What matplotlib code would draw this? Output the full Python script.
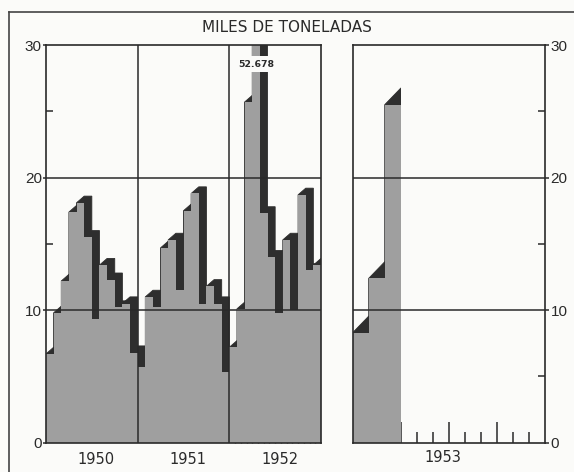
import numpy as np
import matplotlib
matplotlib.use("Agg")
import matplotlib.pyplot as plt
from matplotlib.patches import Polygon, Rectangle
from matplotlib.lines import Line2D

# ---------------- data (miles de toneladas, monthly) ----------------
years_left = ["1950", "1951", "1952"]
year_right = "1953"
values_1950 = [6.7, 9.8, 12.2, 17.4, 18.1, 15.5, 9.3, 13.4, 12.3, 10.2, 10.5, 6.8]
values_1951 = [5.7, 11.0, 10.2, 14.7, 15.3, 11.5, 17.5, 18.8, 10.5, 11.8, 10.5, 5.3]
values_1952 = [7.2, 10.1, 25.7, 52.678, 17.3, 14.0, 9.8, 15.3, 10.0, 18.7, 13.0, 13.4]
values_1953 = [8.3, 12.4, 25.5]
peak_label = "52.678"
title = "MILES DE TONELADAS"
y_ticks = [0, 10, 20, 30]

# ---------------- style ----------------
W, H = 574, 472
BG = "#fbfbf9"
GRAY = "#9f9f9f"
DARK = "#2e2e2e"
INK = "#2a2a2a"
NUM_FONT = ["Liberation Sans", "DejaVu Sans"]

fig = plt.figure(figsize=(W / 100, H / 100), dpi=100)
fig.patch.set_facecolor(BG)


def ax_rect(x0, x1, ytop, ybot):
    return [x0 / W, 1 - ybot / H, (x1 - x0) / W, (ybot - ytop) / H]


axL = fig.add_axes(ax_rect(46, 321, 45, 442.7))
axR = fig.add_axes(ax_rect(352.7, 545, 45, 442.7))

left_values = values_1950 + values_1951 + values_1952


def draw_series(ax, values, depth, clip_to_data=False):
    n = len(values)
    shadows = []
    for i, v in enumerate(values):
        x = i
        poly = Polygon([(x, 0), (x + 1, 0), (x + 2, depth), (x + 2, v + depth),
                        (x + 1, v + depth), (x, v)], closed=True,
                       facecolor=DARK, edgecolor=DARK, linewidth=0.6, zorder=1)
        ax.add_patch(poly)
        shadows.append(poly)
    if clip_to_data:
        clip = Rectangle((0, 0), n, 100, transform=ax.transData)
        for p in shadows:
            p.set_clip_path(clip)
    ax.bar(np.arange(n), values, width=1, align="edge", color=GRAY,
           linewidth=0, zorder=2)


for ax, nmonths in ((axL, 36), (axR, 12)):
    ax.set_facecolor(BG)
    ax.set_xlim(0, nmonths)
    ax.set_ylim(0, 30)
    for s in ax.spines.values():
        s.set_linewidth(1.2)
        s.set_color(INK)
        s.set_zorder(5)
    ax.axhline(10, color=INK, lw=1.1, zorder=4)
    ax.axhline(20, color=INK, lw=1.1, zorder=4)

draw_series(axL, left_values, 0.5)
draw_series(axR, values_1953, 1.25, clip_to_data=True)

# year dividers
for xb in (12, 24):
    axL.axvline(xb, color=INK, lw=1.1, zorder=4)

# ---- y ticks ----
axL.set_yticks(y_ticks)
axL.set_yticklabels([str(t) for t in y_ticks], family=NUM_FONT, fontsize=11, color=INK)
axL.set_yticks([5, 15, 25], minor=True)
axL.tick_params(axis="y", which="major", direction="out", length=2, width=1.1,
                color=INK, pad=1)
axL.tick_params(axis="y", which="minor", direction="in", length=5, width=1.1,
                color=INK)

axR.yaxis.tick_right()
axR.set_yticks(y_ticks)
axR.set_yticklabels([str(t) for t in y_ticks], family=NUM_FONT, fontsize=11, color=INK)
axR.set_yticks([5, 15, 25], minor=True)
axR.tick_params(axis="y", which="major", direction="out", length=3, width=1.1,
                color=INK, pad=1, left=False, right=True)
axR.tick_params(axis="y", which="minor", direction="in", length=5, width=1.1,
                color=INK, left=False, right=True)

# ---- x ticks (month marks) ----
axL.set_xticks([27, 30, 33])
axL.set_xticks([24 + 0.75 * k for k in range(1, 16) if k % 4 != 0], minor=True)
axL.tick_params(axis="x", which="major", direction="in", length=11, width=1.0,
                color=INK, labelbottom=False)
axL.tick_params(axis="x", which="minor", direction="in", length=5, width=1.0,
                color=INK, labelbottom=False)

axR.set_xticks([3, 6, 9])
axR.set_xticks([1, 2, 4, 5, 7, 8, 10, 11], minor=True)
axR.tick_params(axis="x", which="major", direction="in", length=15, width=1.1,
                color=INK, labelbottom=False)
axR.tick_params(axis="x", which="minor", direction="in", length=8, width=1.1,
                color=INK, labelbottom=False)

# year labels
ylab = -(460 - 442.7) / (442.7 - 45)
for k, yr in enumerate(years_left):
    axL.text(12 * k + 6.6, ylab, yr, transform=axL.get_xaxis_transform(),
             ha="center", va="center", fontsize=10.5, color=INK,
             family="DejaVu Sans")
axR.text(5.6, -(458 - 442.7) / (442.7 - 45), year_right,
         transform=axR.get_xaxis_transform(), ha="center", va="center",
         fontsize=10.5, color=INK, family="DejaVu Sans")

# peak label
axL.text(27.5, 28.55, peak_label, ha="center", va="center", fontsize=6.7,
         fontweight="bold", color=INK, zorder=6,
         bbox=dict(facecolor=BG, edgecolor="none", boxstyle="square,pad=0.35"))

# title
fig.text(287 / W, 1 - 28 / H, title, ha="center", va="center", fontsize=11,
         color=INK, family="DejaVu Sans")

# outer scan frame (top and left)
fig.add_artist(Line2D([9 / W, 9 / W], [0, 1 - 12 / H], transform=fig.transFigure,
                      color="#444444", lw=1.2))
fig.add_artist(Line2D([9 / W, 1], [1 - 12 / H, 1 - 12 / H], transform=fig.transFigure,
                      color="#444444", lw=1.2))

fig.savefig("out.png", dpi=100, facecolor=BG)
